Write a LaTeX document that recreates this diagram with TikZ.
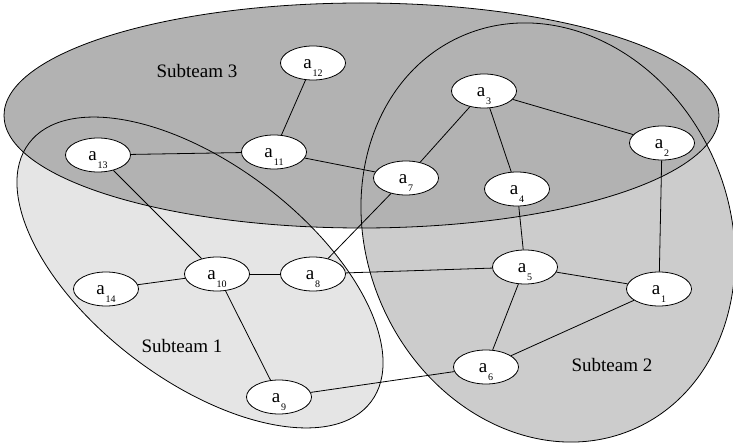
\documentclass[tikz,border=0pt]{standalone}
\usepackage{fontspec}
\setmainfont{Liberation Serif}
\usetikzlibrary{shapes.geometric}
\definecolor{teamone}{gray}{0.9}
\definecolor{teamtwo}{gray}{0.8}
\definecolor{teamthree}{gray}{0.7}
\newcommand\agent[1]{a\kern1pt\raisebox{-8pt}{\fontsize{10}{11}\selectfont #1}}
\tikzset{
  agentnode/.style={ellipse, draw=black, fill=white, line width=0.8pt,
    minimum width=65pt, minimum height=34pt, inner sep=0pt,
    text height=11pt, text depth=0pt,
    font=\fontsize{19}{22}\selectfont},
  teamline/.style={draw=black, line width=0.8pt},
  teamlabel/.style={font=\fontsize{19}{22}\selectfont, inner sep=0pt},
  link/.style={draw=black, line width=0.8pt}
}
\begin{document}
\begin{tikzpicture}[x=1pt, y=-1pt]
\useasboundingbox (0,0) rectangle (733,443);
\clip (0,0) rectangle (733,443);
% team fills
\fill[teamone, rotate around={-37.1:(200,272.5)}] (200,272.5) ellipse [x radius=214.4pt, y radius=108.1pt];
\fill[teamtwo, rotate around={23.6:(548,232.5)}] (548,232.5) ellipse [x radius=181.3pt, y radius=214.5pt];
\fill[teamthree] (361.5,115.5) ellipse [x radius=357.5pt, y radius=112.5pt];
% team outlines
\draw[teamline, rotate around={-37.1:(200,272.5)}] (200,272.5) ellipse [x radius=214.4pt, y radius=108.1pt];
\draw[teamline, rotate around={23.6:(548,232.5)}] (548,232.5) ellipse [x radius=181.3pt, y radius=214.5pt];
\draw[teamline] (361.5,115.5) ellipse [x radius=357.5pt, y radius=112.5pt];
% team labels
\node[teamlabel] (t3) at (197,71) {Subteam 3};
\node[teamlabel] (t1) at (182,346) {Subteam 1};
\node[teamlabel] (t2) at (612,365) {Subteam 2};
% agents
\node[agentnode] (a1) at (659,289) {\agent{1}};
\node[agentnode] (a2) at (662,143) {\agent{2}};
\node[agentnode] (a3) at (484,91) {\agent{3}};
\node[agentnode] (a4) at (517,189) {\agent{4}};
\node[agentnode] (a5) at (525,267) {\agent{5}};
\node[agentnode] (a6) at (486,367) {\agent{6}};
\node[agentnode] (a7) at (406,178) {\agent{7}};
\node[agentnode] (a8) at (313,274) {\agent{8}};
\node[agentnode] (a9) at (279,397) {\agent{9}};
\node[agentnode] (a10) at (217,274) {\agent{10}};
\node[agentnode] (a11) at (274,152) {\agent{11}};
\node[agentnode] (a12) at (313,63) {\agent{12}};
\node[agentnode] (a13) at (98,155) {\agent{13}};
\node[agentnode] (a14) at (106,289) {\agent{14}};
% links
\draw[link] (a12) -- (a11);
\draw[link] (a13) -- (a11);
\draw[link] (a11) -- (a7);
\draw[link] (a13) -- (a10);
\draw[link] (a3) -- (a7);
\draw[link] (a3) -- (a4);
\draw[link] (a3) -- (a2);
\draw[link] (a2) -- (a1);
\draw[link] (a4) -- (a5);
\draw[link] (a7) -- (a8);
\draw[link] (a10) -- (a8);
\draw[link] (a10) -- (a14);
\draw[link] (a10) -- (a9);
\draw[link] (a8) -- (a5);
\draw[link] (a5) -- (a1);
\draw[link] (a5) -- (a6);
\draw[link] (a6) -- (a1);
\draw[link] (a9) -- (a6);
\end{tikzpicture}
\end{document}
